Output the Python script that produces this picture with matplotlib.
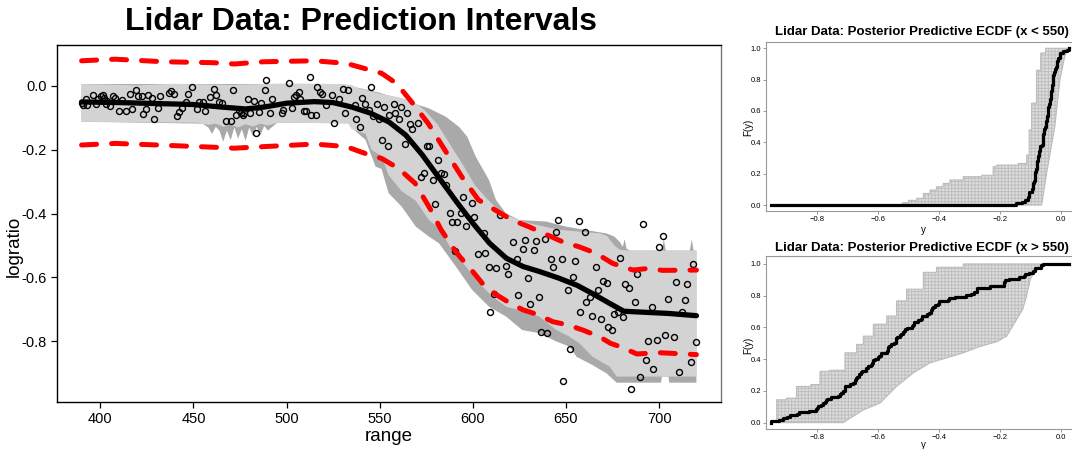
import numpy as np
import matplotlib
matplotlib.use("Agg")
import matplotlib.pyplot as plt

plt.rcParams['font.family'] = ['Liberation Sans', 'DejaVu Sans']
plt.rcParams['axes.unicode_minus'] = False
plt.rcParams['hatch.linewidth'] = 0.6

# =================================
# Observed lidar data (read off the picture)
# =================================
range_obs = [
    390.0, 391.0, 392.1, 393.0, 396.1, 397.5, 398.9, 400.2, 401.5, 402.0,
    402.9, 403.8, 405.0, 406.9, 407.9, 410.1, 411.9, 414.0, 415.8, 416.9,
    419.0, 420.1, 422.3, 423.0, 424.8, 425.9, 428.0, 429.1, 430.9, 432.0,
    436.7, 437.9, 439.8, 441.0, 442.5, 443.9, 446.0, 447.1, 449.2, 452.2,
    452.9, 455.4, 456.5, 459.0, 461.1, 462.2, 464.0, 465.5, 467.4, 470.3,
    471.2, 473.0, 474.3, 475.4, 476.4, 477.1, 479.3, 480.2, 482.5, 483.4,
    485.4, 486.1, 488.3, 489.2, 491.2, 492.2, 497.3, 498.3, 501.2, 503.0,
    504.1, 505.3, 506.6, 507.3, 509.5, 510.6, 512.4, 513.4, 515.6, 516.3,
    518.0, 519.2, 521.4, 524.2, 525.3, 528.2, 530.4, 531.4, 533.2, 536.5,
    537.2, 539.5, 540.4, 542.2, 544.0, 545.5, 546.6, 548.5, 549.4, 551.2,
    552.3, 554.4, 555.2, 557.5, 558.4, 560.6, 561.4, 563.4, 564.7, 566.5,
    567.4, 570.6, 572.4, 573.7, 575.5, 576.4, 578.5, 579.6, 581.4, 582.7,
    584.5, 585.7, 587.5, 588.6, 590.4, 591.6, 593.6, 594.7, 596.5, 599.4,
    600.7, 602.6, 605.9, 606.6, 608.7, 609.4, 611.4, 612.7, 614.5, 617.8,
    618.8, 621.7, 623.9, 624.5, 626.7, 627.8, 629.6, 630.7, 632.9, 633.9,
    635.7, 636.8, 638.6, 639.6, 641.8, 642.9, 644.7, 645.8, 647.9, 648.6,
    650.9, 651.9, 653.7, 654.8, 656.9, 657.7, 660.0, 660.9, 663.1, 663.8,
    665.9, 667.0, 668.8, 669.9, 672.0, 672.8, 674.9, 675.6, 677.8, 678.9,
    680.6, 681.7, 683.9, 684.8, 687.0, 687.9, 689.6, 691.1, 692.9, 694.0,
    696.0, 696.8, 699.0, 699.7, 701.9, 703.0, 705.0, 708.0, 709.1, 710.8,
    712.1, 714.0, 714.9, 717.0, 718.1, 719.9,
]
logratio_obs = [
    -0.052, -0.060, -0.042, -0.060, -0.028, -0.057, -0.042, -0.030, -0.027, -0.037,
    -0.057, -0.046, -0.062, -0.031, -0.039, -0.077, -0.044, -0.078, -0.025, -0.072,
    -0.013, -0.031, -0.031, -0.088, -0.072, -0.028, -0.037, -0.103, -0.068, -0.031,
    -0.023, -0.015, -0.025, -0.095, -0.081, -0.068, -0.049, -0.025, -0.004, -0.073,
    -0.049, -0.049, -0.078, -0.035, -0.008, -0.029, -0.049, -0.054, -0.109, -0.109,
    -0.012, -0.092, -0.075, -0.086, -0.091, -0.086, -0.041, -0.084, -0.046, -0.148,
    -0.081, -0.054, -0.012, 0.019, -0.084, -0.042, -0.084, -0.075, 0.008, -0.068,
    -0.034, -0.027, -0.020, -0.041, -0.077, -0.077, 0.027, -0.092, -0.092, -0.004,
    -0.018, -0.024, -0.060, -0.027, -0.117, -0.042, -0.009, -0.084, -0.013, -0.060,
    -0.104, -0.128, -0.039, -0.057, -0.075, -0.004, -0.094, -0.055, -0.103, -0.169,
    -0.065, -0.188, -0.091, -0.057, -0.084, -0.104, -0.066, -0.182, -0.086, -0.120,
    -0.136, -0.117, -0.286, -0.274, -0.188, -0.188, -0.295, -0.371, -0.232, -0.274,
    -0.276, -0.310, -0.399, -0.425, -0.518, -0.425, -0.399, -0.347, -0.440, -0.366,
    -0.412, -0.527, -0.460, -0.523, -0.566, -0.709, -0.652, -0.571, -0.403, -0.564,
    -0.590, -0.489, -0.542, -0.656, -0.510, -0.483, -0.601, -0.683, -0.515, -0.485,
    -0.662, -0.770, -0.481, -0.773, -0.541, -0.566, -0.457, -0.420, -0.541, -0.925,
    -0.639, -0.825, -0.598, -0.548, -0.424, -0.708, -0.457, -0.676, -0.661, -0.721,
    -0.568, -0.639, -0.730, -0.611, -0.617, -0.755, -0.766, -0.714, -0.709, -0.538,
    -0.725, -0.621, -0.633, -0.950, -0.676, -0.589, -0.911, -0.433, -0.860, -0.799,
    -0.693, -0.887, -0.797, -0.504, -0.470, -0.780, -0.668, -0.787, -0.615, -0.898,
    -0.708, -0.672, -0.622, -0.866, -0.558, -0.803,
]

# posterior mean curve
mean_x = [390, 410, 430, 450, 465, 478, 488, 500, 515, 525, 535, 545, 555, 564,
          573, 582, 591, 600, 609, 618, 627, 636, 646, 656, 664, 673, 681, 691,
          705, 720]
mean_y = [-0.050, -0.052, -0.055, -0.058, -0.066, -0.072, -0.066, -0.054, -0.049,
          -0.052, -0.066, -0.085, -0.113, -0.154, -0.217, -0.289, -0.361, -0.430,
          -0.493, -0.540, -0.566, -0.582, -0.602, -0.625, -0.650, -0.680, -0.706,
          -0.709, -0.713, -0.720]

# red dashed interval limits
red_up_x = [390, 408, 434, 461, 472, 488, 515, 532, 551, 559, 567, 576, 585, 594,
            603, 612, 621, 630, 640, 648, 657, 666, 675, 686, 694, 702, 720]
red_up_y = [0.079, 0.084, 0.076, 0.073, 0.069, 0.076, 0.079, 0.071, 0.040, 0.008,
            -0.049, -0.117, -0.201, -0.284, -0.357, -0.389, -0.420, -0.441, -0.467,
            -0.488, -0.504, -0.524, -0.556, -0.577, -0.572, -0.578, -0.577]
red_lo_x = [390, 408, 431, 461, 472, 488, 515, 532, 542, 551, 560, 569, 577, 583,
            589, 593, 600, 605, 612, 620, 627, 634, 643, 651, 659, 668, 674, 680,
            688, 700, 720]
red_lo_y = [-0.185, -0.180, -0.185, -0.192, -0.195, -0.190, -0.182, -0.190, -0.211,
            -0.227, -0.258, -0.305, -0.384, -0.451, -0.504, -0.535, -0.582, -0.618,
            -0.652, -0.681, -0.702, -0.715, -0.739, -0.749, -0.765, -0.786, -0.807,
            -0.819, -0.840, -0.836, -0.842]

# light grey prediction band
light_up_x = [390, 420, 440, 470, 500, 529.5, 534.8, 538.6, 549.4, 560.0, 567.0,
              574.0, 581.0, 588.0, 595.0, 601.0, 607.0, 613.0, 620.0, 630.0, 646.5,
              668.1, 672.0, 676.0, 679.0, 684.3, 720]
light_up_y = [0.006, 0.002, 0.007, 0.003, 0.008, 0.006, 0.003, -0.007, -0.023,
              -0.035, -0.045, -0.075, -0.120, -0.185, -0.250, -0.310, -0.350, -0.385,
              -0.410, -0.430, -0.451, -0.462, -0.470, -0.500, -0.514, -0.516, -0.516]
light_lo_x = [390, 452, 458, 462, 466, 470, 474, 478, 482, 486, 490, 495, 533.2,
              534.8, 542.4, 545.6, 551.0, 554.8, 561.8, 569.4, 576.4, 581.8, 588.8,
              596.3, 603.3, 610.4, 617.9, 624.9, 635.7, 644.9, 651.9, 657.3, 664.3,
              673.5, 677.2, 720]
light_lo_y = [-0.112, -0.115, -0.122, -0.118, -0.128, -0.121, -0.130, -0.120,
              -0.127, -0.118, -0.124, -0.115, -0.117, -0.135, -0.150, -0.200, -0.220,
              -0.280, -0.330, -0.360, -0.420, -0.445, -0.514, -0.566, -0.618, -0.660,
              -0.692, -0.702, -0.723, -0.765, -0.786, -0.807, -0.849, -0.880, -0.911,
              -0.911]

# dark grey band
dark_up_x = [390, 529.5, 549.4, 565.6, 576.4, 585.4, 592.6, 597.0, 601.6, 608.7,
             612.4, 617.7, 624.9, 639.3, 650.1, 666.3, 671.7, 676.0, 679.0, 680.5,
             681.5, 682.5, 684.3, 701.5, 702.5, 703.5, 716.5, 717.5, 718.5, 720]
dark_up_y = [0.006, 0.006, -0.020, -0.050, -0.070, -0.096, -0.128, -0.159, -0.222,
             -0.295, -0.357, -0.399, -0.420, -0.425, -0.441, -0.457, -0.462, -0.472,
             -0.490, -0.504, -0.480, -0.510, -0.516, -0.516, -0.480, -0.516, -0.516,
             -0.480, -0.516, -0.516]
dark_lo_x = [390, 455, 458, 460, 462, 464, 466, 468, 470, 472, 474, 476, 478, 480,
             482, 484, 486, 488, 490, 495, 533.2, 534.8, 542.4, 547.8, 551.0, 554.8,
             561.8, 569.4, 576.4, 581.8, 590.9, 599.6, 608.7, 617.9, 626.5, 635.7,
             644.9, 651.9, 655.7, 664.3, 671.8, 677.2, 701.0, 701.5, 705.0, 705.5, 720]
dark_lo_y = [-0.112, -0.118, -0.130, -0.150, -0.128, -0.140, -0.175, -0.140, -0.170,
             -0.130, -0.165, -0.135, -0.172, -0.130, -0.158, -0.128, -0.155, -0.125,
             -0.140, -0.115, -0.117, -0.130, -0.169, -0.253, -0.260, -0.336, -0.378,
             -0.441, -0.472, -0.493, -0.566, -0.639, -0.692, -0.723, -0.765, -0.775,
             -0.801, -0.817, -0.849, -0.875, -0.901, -0.930, -0.930, -0.911, -0.911,
             -0.930, -0.930]

# posterior predictive ECDF envelopes (x < 550)
ppc_lo_left_x = [-0.52, -0.50, -0.473, -0.451, -0.429, -0.408, -0.386, -0.364, -0.320,
                 -0.26, -0.222, -0.211, -0.14, -0.112, -0.104, -0.096, -0.080, -0.066,
                 -0.050]
ppc_lo_left_F = [0.015, 0.03, 0.043, 0.074, 0.096, 0.117, 0.138, 0.160, 0.181, 0.19,
                 0.245, 0.255, 0.265, 0.319, 0.48, 0.65, 0.86, 0.97, 1.0]
ppc_lo_right_x = [-0.063, -0.047, -0.020, -0.003, 0.013, 0.024]
ppc_lo_right_F = [0.0, 0.2, 0.5, 0.8, 0.95, 1.0]

# posterior predictive ECDF envelopes (x > 550)
ppc_hi_left_x = [-0.932, -0.90, -0.867, -0.82, -0.790, -0.76, -0.708, -0.670, -0.648,
                 -0.615, -0.571, -0.539, -0.506, -0.451, -0.408, -0.320]
ppc_hi_left_F = [0.144, 0.154, 0.228, 0.24, 0.323, 0.33, 0.44, 0.493, 0.545, 0.62,
                 0.672, 0.767, 0.841, 0.947, 0.979, 1.0]
ppc_hi_right_x = [-0.714, -0.648, -0.593, -0.539, -0.484, -0.430, -0.375, -0.320,
                  -0.265, -0.210, -0.178, -0.145, -0.125, -0.112, -0.100, -0.080, -0.036]
ppc_hi_right_F = [0.0, 0.08, 0.123, 0.228, 0.313, 0.376, 0.408, 0.44, 0.48, 0.51,
                  0.545, 0.65, 0.715, 0.8, 0.905, 0.968, 1.0]

x_ticks = [400, 450, 500, 550, 600, 650, 700]
y_ticks = [0.0, -0.2, -0.4, -0.6, -0.8]
ecdf_x_ticks = [-0.8, -0.6, -0.4, -0.2, 0.0]
ecdf_y_ticks = [0.0, 0.2, 0.4, 0.6, 0.8, 1.0]
split_at = 550


# =================================
# helpers
# =================================
def step_edge(xs, fs, start_x):
    # staircase along left boundary, starting from F = 0
    px, py = [start_x], [0.0]
    for i, (x, f) in enumerate(zip(xs, fs)):
        px.append(x)
        py.append(f)
        if i + 1 < len(xs):
            px.append(xs[i + 1])
            py.append(f)
    return px, py


def ecdf_panel(ax, sub_y, left_x, left_f, right_x, right_f, x_all):
    lx, lf = step_edge(left_x, left_f, left_x[0])
    poly_x = lx + right_x[::-1]
    poly_f = lf + right_f[::-1]
    ax.fill(poly_x, poly_f, facecolor='#dcdcdc', edgecolor='#bcbcbc',
            hatch='+++++', linewidth=0.8, zorder=1)

    ys = np.sort(np.asarray(sub_y))
    n = len(ys)
    fs = np.arange(1, n + 1) / n
    sx = np.concatenate([[min(x_all)], ys, [max(x_all)]])
    sf = np.concatenate([[0.0], fs, [1.0]])
    ax.step(sx, sf, where='post', color='black', linewidth=2.3, zorder=3)

    ax.set_xlim(-0.967, 0.066)
    ax.set_xticks(ecdf_x_ticks)
    ax.set_xticklabels([f"{v:.1f}".replace("-", "\u2212") for v in ecdf_x_ticks])
    ax.set_yticks(ecdf_y_ticks)
    ax.set_yticklabels([f"{v:.1f}" for v in ecdf_y_ticks])
    ax.tick_params(labelsize=5.5, length=2.2, width=0.6, color='#888888', pad=1.5)
    for s in ax.spines.values():
        s.set_color('#999999')
        s.set_linewidth(0.8)
    ax.set_ylabel("F(y)", fontsize=7)
    ax.set_xlabel("y", fontsize=7)


# =================================
# figure
# =================================
fig = plt.figure(figsize=(10.72, 4.49), dpi=100)

ax = fig.add_axes([57 / 1072, 1 - 402 / 449, 664 / 1072, 357 / 449])
ax.fill(dark_up_x + dark_lo_x[::-1], dark_up_y + dark_lo_y[::-1],
        color='#a9a9a9', linewidth=0, zorder=1)
ax.fill(light_up_x + light_lo_x[::-1], light_up_y + light_lo_y[::-1],
        color='#d3d3d3', linewidth=0, zorder=2)
ax.plot(range_obs, logratio_obs, 'o', mfc='none', mec='black', ms=4.3,
        mew=1.0, zorder=3)
ax.plot(red_up_x, red_up_y, color='red', linewidth=3.6,
        linestyle=(0, (3.0, 3.0)), dash_capstyle='round', zorder=4)
ax.plot(red_lo_x, red_lo_y, color='red', linewidth=3.6,
        linestyle=(0, (3.0, 3.0)), dash_capstyle='round', zorder=4)
ax.plot(mean_x, mean_y, color='black', linewidth=3.8,
        solid_capstyle='round', zorder=5)

ax.set_xlim(376.8, 733.2)
ax.set_ylim(-0.9906, 0.1285)
ax.set_xticks(x_ticks)
ax.set_yticks(y_ticks)
ax.set_yticklabels([f"{v:.1f}" for v in y_ticks])
ax.tick_params(labelsize=10.5, length=4.5, width=0.9, pad=3)
for s in ax.spines.values():
    s.set_linewidth(1.0)
ax.spines['right'].set_color('#777777')
ax.set_xlabel("range", fontsize=13.5)
ax.set_ylabel("logratio", fontsize=13.5)
ax.xaxis.set_label_coords(0.5, -0.073)
ax.yaxis.set_label_coords(-0.052, 0.435)

fig.text(361 / 1072, 1 - 22 / 449, "Lidar Data: Prediction Intervals",
         ha='center', va='center', fontsize=23, fontweight='bold')

ys_lo = [y for x, y in zip(range_obs, logratio_obs) if x < split_at]
ys_hi = [y for x, y in zip(range_obs, logratio_obs) if x > split_at]

ax1 = fig.add_axes([766 / 1072, 1 - 210.7 / 449, 315 / 1072, 169 / 449])
ecdf_panel(ax1, ys_lo, ppc_lo_left_x, ppc_lo_left_F, ppc_lo_right_x,
           ppc_lo_right_F, logratio_obs)
ax1.set_ylim(-0.036, 1.042)
ax1.yaxis.set_label_coords(-0.041, 0.495)
ax1.xaxis.set_label_coords(0.5, -0.085)

ax2 = fig.add_axes([766 / 1072, 1 - 429.3 / 449, 315 / 1072, 173.3 / 449])
ecdf_panel(ax2, ys_hi, ppc_hi_left_x, ppc_hi_left_F, ppc_hi_right_x,
           ppc_hi_right_F, logratio_obs)
ax2.set_ylim(-0.042, 1.05)
ax2.yaxis.set_label_coords(-0.041, 0.486)
ax2.xaxis.set_label_coords(0.5, -0.062)

fig.text(922 / 1072, 1 - 32 / 449,
         "Lidar Data: Posterior Predictive ECDF (x < 550)",
         ha='center', va='center', fontsize=9.5, fontweight='bold')
fig.text(922 / 1072, 1 - 248 / 449,
         "Lidar Data: Posterior Predictive ECDF (x > 550)",
         ha='center', va='center', fontsize=9.5, fontweight='bold')

fig.savefig("out.png", dpi=100)
